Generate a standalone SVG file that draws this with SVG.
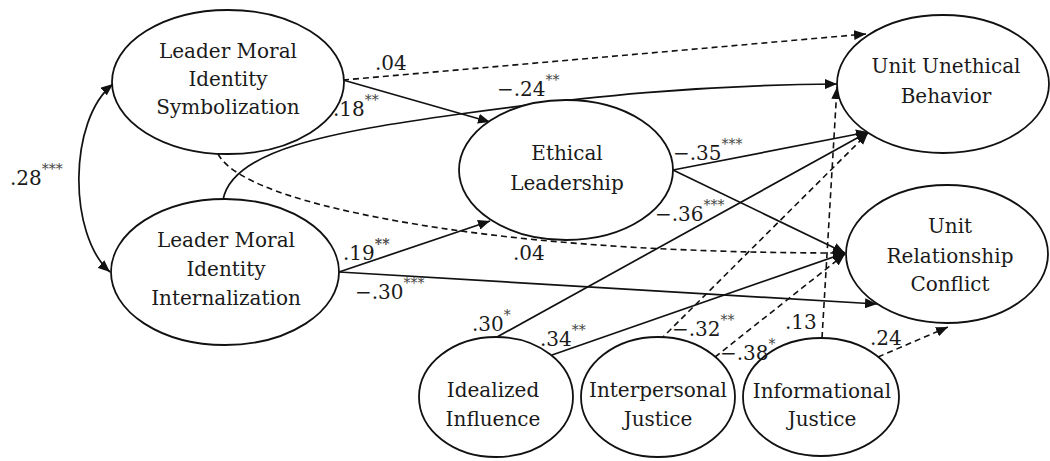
<svg xmlns="http://www.w3.org/2000/svg" width="1050" height="461" viewBox="0 0 1050 461">
<style>
  .node ellipse { fill: #fff; stroke: #111; stroke-width: 1.8; }
  .node text, .lbl { font-family: "DejaVu Serif", "Liberation Serif", serif; font-size: 20px; fill: #1a1a1a; }
  .node text { text-anchor: middle; }
  .st { font-size: 14px; fill: #444; }
  .c { fill: none; stroke: #111; stroke-width: 1.7; }
  .d { stroke-dasharray: 6 4; stroke-width: 1.6; }
</style>
<defs>
  <marker id="ah" viewBox="0 0 12 10" refX="12" refY="5" markerWidth="12" markerHeight="10" markerUnits="userSpaceOnUse" orient="auto-start-reverse">
    <path d="M0,0 L12,5 L0,10 z" fill="#111"/>
  </marker>
</defs>
<rect width="1050" height="461" fill="#fff"/>

<g id="connectors">
  <path class="c" d="M113 84 C68 120 68 235 110 272" marker-start="url(#ah)" marker-end="url(#ah)"/>
  <path class="c d" d="M343 80 L866 34" marker-end="url(#ah)"/>
  <path class="c" d="M343 80 L490 122" marker-end="url(#ah)"/>
  <path class="c" d="M223 200 C232 150 330 132 460 114 S700 85 837 84" marker-end="url(#ah)"/>
  <path class="c" d="M673 170 L868 132" marker-end="url(#ah)"/>
  <path class="c" d="M673 170 L845 253" marker-end="url(#ah)"/>
  <path class="c" d="M339 272 L490 221" marker-end="url(#ah)"/>
  <path class="c d" d="M218 154 C235 185 320 210 440 228 C560 246 700 253 845 253" marker-end="url(#ah)"/>
  <path class="c" d="M339 272 L877 304" marker-end="url(#ah)"/>
  <path class="c" d="M497 337 L868 132" marker-end="url(#ah)"/>
  <path class="c" d="M552 355 L845 253" marker-end="url(#ah)"/>
  <path class="c d" d="M660 340 L868 133" marker-end="url(#ah)"/>
  <path class="c d" d="M715 357 L845 254" marker-end="url(#ah)"/>
  <path class="c d" d="M822 338 L837 87" marker-end="url(#ah)"/>
  <path class="c d" d="M878 357 L948 327" marker-end="url(#ah)"/>
</g>

<g id="n-lmis" class="node">
  <ellipse cx="228" cy="82" rx="116" ry="72"/>
  <text x="228" y="58">Leader Moral</text>
  <text x="228" y="86">Identity</text>
  <text x="228" y="114">Symbolization</text>
</g>
<g id="n-lmii" class="node">
  <ellipse cx="225" cy="272" rx="114" ry="73"/>
  <text x="226" y="247">Leader Moral</text>
  <text x="226" y="276">Identity</text>
  <text x="226" y="305">Internalization</text>
</g>
<g id="n-el" class="node">
  <ellipse cx="566" cy="170" rx="107" ry="70"/>
  <text x="567" y="160">Ethical</text>
  <text x="567" y="190">Leadership</text>
</g>
<g id="n-uub" class="node">
  <ellipse cx="943" cy="84" rx="106" ry="69"/>
  <text x="946" y="73">Unit Unethical</text>
  <text x="946" y="103">Behavior</text>
</g>
<g id="n-urc" class="node">
  <ellipse cx="947" cy="254" rx="101" ry="69"/>
  <text x="950" y="233">Unit</text>
  <text x="950" y="263">Relationship</text>
  <text x="950" y="291">Conflict</text>
</g>
<g id="n-ii" class="node">
  <ellipse cx="496" cy="397" rx="77" ry="60"/>
  <text x="493" y="397">Idealized</text>
  <text x="493" y="426">Influence</text>
</g>
<g id="n-ij" class="node">
  <ellipse cx="658" cy="397" rx="77" ry="60"/>
  <text x="658" y="397">Interpersonal</text>
  <text x="658" y="426">Justice</text>
</g>
<g id="n-infj" class="node">
  <ellipse cx="821" cy="397" rx="78" ry="59"/>
  <text x="822" y="398">Informational</text>
  <text x="822" y="426">Justice</text>
</g>

<g id="labels">
  <text class="lbl" x="10" y="185">.28<tspan class="st" dy="-11">***</tspan></text>
  <text class="lbl" x="375" y="70">.04</text>
  <text class="lbl" x="333" y="116">.18<tspan class="st" dy="-11">**</tspan></text>
  <text class="lbl" x="497" y="96">−.24<tspan class="st" dy="-11">**</tspan></text>
  <text class="lbl" x="673" y="160">−.35<tspan class="st" dy="-11">***</tspan></text>
  <text class="lbl" x="655" y="221">−.36<tspan class="st" dy="-11">***</tspan></text>
  <text class="lbl" x="343" y="260">.19<tspan class="st" dy="-11" font-weight="bold">**</tspan></text>
  <text class="lbl" x="513" y="260">.04</text>
  <text class="lbl" x="355" y="299">−.30<tspan class="st" dy="-11">***</tspan></text>
  <text class="lbl" x="472" y="331">.30<tspan class="st" dy="-11">*</tspan></text>
  <text class="lbl" x="540" y="346">.34<tspan class="st" dy="-11">**</tspan></text>
  <text class="lbl" x="672" y="336">−.32<tspan class="st" dy="-11">**</tspan></text>
  <text class="lbl" x="720" y="360">−.38<tspan class="st" dy="-11">*</tspan></text>
  <text class="lbl" x="785" y="329">.13</text>
  <text class="lbl" x="870" y="345">.24</text>
</g>
</svg>
